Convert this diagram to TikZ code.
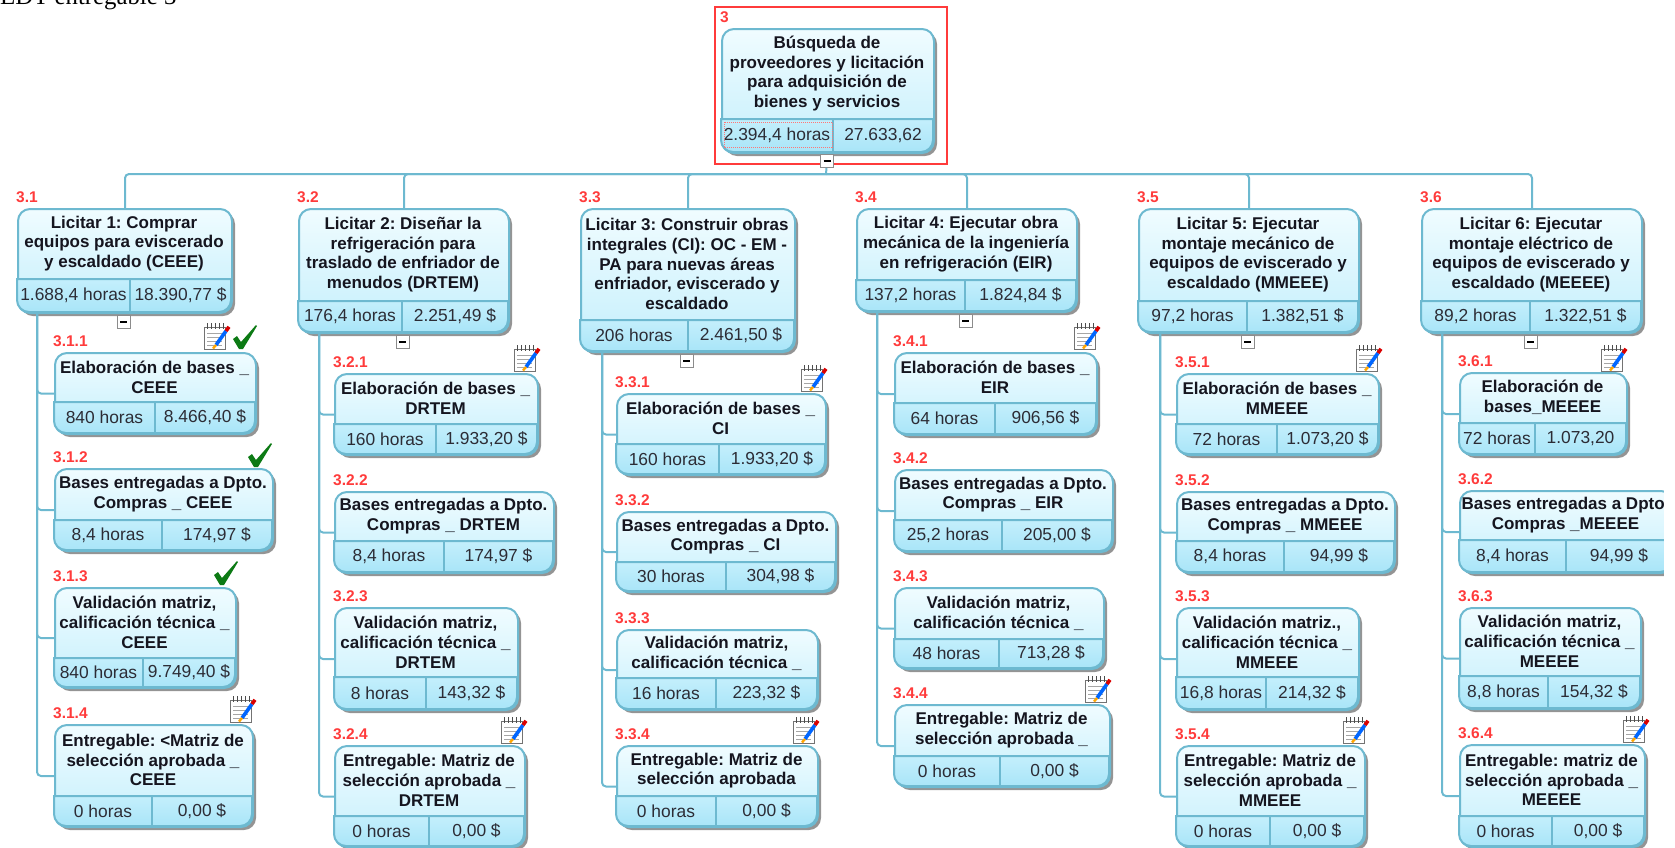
\documentclass[tikz,border=0pt]{standalone}
\usepackage{xcolor}
\usepackage{fontspec}
\usepackage{tikz}
\usetikzlibrary{shadows}
\setmainfont{Liberation Sans}
\newfontfamily\edtfont{Liberation Serif}
\frenchspacing
\definecolor{wbsline}{HTML}{6DB9D0}
\definecolor{wbstop}{HTML}{F0FCFF}
\definecolor{wbsmid}{HTML}{C4EFFC}
\definecolor{wbsfoot}{HTML}{A9E5F8}
\definecolor{wbsred}{HTML}{FF3B3B}
\definecolor{wbsink}{HTML}{15151F}
\definecolor{wbsgreen}{HTML}{0C7A14}
\tikzset{
    wbsbox/.style={draw=wbsline, line width=2pt, rounded corners=12pt, top color=wbstop, bottom color=wbsmid, inner sep=0pt, anchor=north west,
        general shadow={shadow xshift=3pt, shadow yshift=-3pt, fill=black, opacity=0.42}},
    wbsfooter/.style={draw=wbsline, line width=2pt, top color=wbsmid, bottom color=wbsfoot},
    wbstitle/.style={align=center, font=\fontsize{17}{19.8}\selectfont\bfseries, text=wbsink, inner sep=0pt},
    wbscell/.style={font=\fontsize{17.4}{20}\selectfont, text=wbsink!90, inner sep=0pt},
    wbsnum/.style={font=\fontsize{15.5}{18}\selectfont\bfseries, text=wbsred, anchor=west, inner sep=0pt},
    wbsconn/.style={draw=wbsline, line width=2pt, rounded corners=4pt},
    collapser/.style={draw=black!45, fill=white, line width=1pt, minimum width=13pt, minimum height=13pt, inner sep=0pt},
    notepad/.pic={
        \draw[black!55, fill=white, line width=0.9pt] (-12,-9) rectangle (9,13);
        \foreach \ringx in {-9,-5,-1,3,7}
            \draw[black!70, line width=1pt] (\ringx,-13) -- (\ringx,-7);
        \foreach \rowy in {-3,1,5,9}
            \draw[black!35, line width=0.9pt] (-9,\rowy) -- (6,\rowy);
        \draw[blue!60!cyan, line width=3.6pt] (10,-5) -- (0,9);
        \draw[red!85!black, line width=3.6pt] (13,-9.2) -- (10,-5);
        \draw[orange!70!yellow, line width=2.4pt] (0,9) -- (-3,12.5);
    },
    checkmark/.pic={
        \fill[wbsgreen] (-12,2) -- (-8,-1) -- (-4,5) -- (11,-12) -- (12,-11) -- (-2,12) -- (-6,12) -- cycle;
    }
}
\begin{document}
\begin{tikzpicture}[x=1pt,y=-1pt]
    \path[use as bounding box, clip] (0,0) rectangle (1675,847);
    \node[anchor=base west, inner sep=0pt, font=\edtfont\fontsize{24.8}{28}\selectfont] (edt) at (0,4) {EDT entregable 3};
    \node[draw=wbsred, line width=2pt, inner sep=0pt, minimum width=232pt, minimum height=157pt, anchor=north west] (frame3) at (714,6) {};

    \foreach \nm/\xa/\ya/\xb/\yb/\yd/\xd/\nbr/\ttl/\hrs/\cst in {
        b3/721/28/933/152/119/833/3/{Búsqueda de\\proveedores y licitación\\para adquisición de\\bienes y servicios}/{2.394,4 horas}/{27.633,62},
        b31/17/208/231/312/279/130/3.1/{Licitar 1: Comprar\\equipos para eviscerado\\y escaldado (CEEE)}/{1.688,4 horas}/{18.390,77 \$},
        b311/54/352/255/433/402/155/3.1.1/{Elaboración de bases \_\\CEEE}/{840 horas}/{8.466,40 \$},
        b312/54/468/272/550/520/162/3.1.2/{Bases entregadas a Dpto.\\Compras \_ CEEE}/{8,4 horas}/{174,97 \$},
        b313/54/587/235/687/658/143/3.1.3/{Validación matriz,\\calificación técnica \_\\CEEE}/{840 horas}/{9.749,40 \$},
        b314/54/724/252/826/796/152/3.1.4/{Entregable: <Matriz de\\selección aprobada \_\\CEEE}/{0 horas}/{0,00 \$},
        b32/298/208/508/332/301/402/3.2/{Licitar 2: Diseñar la\\refrigeración para\\traslado de enfriador de\\menudos (DRTEM)}/{176,4 horas}/{2.251,49 \$},
        b321/334/373/537/454/424/436/3.2.1/{Elaboración de bases \_\\DRTEM}/{160 horas}/{1.933,20 \$},
        b322/334/491/553/572/541/444/3.2.2/{Bases entregadas a Dpto.\\Compras \_ DRTEM}/{8,4 horas}/{174,97 \$},
        b323/334/607/517/709/677/426/3.2.3/{Validación matriz,\\calificación técnica \_\\DRTEM}/{8 horas}/{143,32 \$},
        b324/334/745/524/846/816/429/3.2.4/{Entregable: Matriz de\\selección aprobada \_\\DRTEM}/{0 horas}/{0,00 \$},
        b33/580/208/794/351/320/688/3.3/{Licitar 3: Construir obras\\integrales (CI): OC - EM -\\PA para nuevas áreas\\enfriador, eviscerado y\\escaldado}/{206 horas}/{2.461,50 \$},
        b331/616/393/825/474/444/719/3.3.1/{Elaboración de bases \_\\CI}/{160 horas}/{1.933,20 \$},
        b332/616/511/835/591/562/726/3.3.2/{Bases entregadas a Dpto.\\Compras \_ CI}/{30 horas}/{304,98 \$},
        b333/616/629/817/709/678/716/3.3.3/{Validación matriz,\\calificación técnica \_}/{16 horas}/{223,32 \$},
        b334/616/745/817/826/796/716/3.3.4/{Entregable: Matriz de\\selección aprobada}/{0 horas}/{0,00 \$},
        b34/856/208/1076/311/280/965/3.4/{Licitar 4: Ejecutar obra\\mecánica de la ingeniería\\en refrigeración (EIR)}/{137,2 horas}/{1.824,84 \$},
        b341/894/352/1096/434/403/995/3.4.1/{Elaboración de bases \_\\EIR}/{64 horas}/{906,56 \$},
        b342/894/469/1112/551/520/1002/3.4.2/{Bases entregadas a Dpto.\\Compras \_ EIR}/{25,2 horas}/{205,00 \$},
        b343/894/587/1103/668/639/999/3.4.3/{Validación matriz,\\calificación técnica \_}/{48 horas}/{713,28 \$},
        b344/894/704/1109/786/756/1000/3.4.4/{Entregable: Matriz de\\selección aprobada \_}/{0 horas}/{0,00 \$},
        b35/1138/208/1358/332/301/1247/3.5/{Licitar 5: Ejecutar\\montaje mecánico de\\equipos de eviscerado y\\escaldado (MMEEE)}/{97,2 horas}/{1.382,51 \$},
        b351/1176/373/1378/454/424/1277/3.5.1/{Elaboración de bases \_\\MMEEE}/{72 horas}/{1.073,20 \$},
        b352/1176/491/1394/572/541/1284/3.5.2/{Bases entregadas a Dpto.\\Compras \_ MMEEE}/{8,4 horas}/{94,99 \$},
        b353/1176/607/1358/709/677/1266/3.5.3/{Validación matriz.,\\calificación técnica \_\\MMEEE}/{16,8 horas}/{214,32 \$},
        b354/1176/745/1364/846/816/1270/3.5.4/{Entregable: Matriz de\\selección aprobada \_\\MMEEE}/{0 horas}/{0,00 \$},
        b36/1421/208/1641/332/301/1530/3.6/{Licitar 6: Ejecutar\\montaje eléctrico de\\equipos de eviscerado y\\escaldado (MEEEE)}/{89,2 horas}/{1.322,51 \$},
        b361/1459/372/1626/454/423/1535/3.6.1/{Elaboración de\\bases\_MEEEE}/{72 horas}/{1.073,20},
        b362/1459/490/1672/572/540/1566/3.6.2/{Bases entregadas a Dpto.\\Compras \_MEEEE}/{8,4 horas}/{94,99 \$},
        b363/1459/607/1640/708/676/1548/3.6.3/{Validación matriz,\\calificación técnica \_\\MEEEE}/{8,8 horas}/{154,32 \$},
        b364/1459/744/1644/846/816/1552/3.6.4/{Entregable: matriz de\\selección aprobada \_\\MEEEE}/{0 horas}/{0,00 \$}%
    }{
        \node[wbsbox, minimum width={(\xb-\xa)*1pt}, minimum height={(\yb-\ya)*1pt}] (\nm) at (\xa,\ya) {};
        \path[wbsfooter] (\xa,\yd) [rounded corners=12pt] -- (\xa,\yb) -- (\xb,\yb) [sharp corners] -- (\xb,\yd) -- cycle;
        \draw[draw=wbsline, line width=2pt] (\xd,\yd) -- (\xd,\yb);
        \node[wbstitle] (\nm-t) at ({(\xa+\xb)/2},{(\ya+\yd)/2}) {\ttl};
        \node[wbscell] (\nm-h) at ({(\xa+\xd)/2},{(\yd+\yb)/2}) {\hrs};
        \node[wbscell] (\nm-c) at ({(\xd+\xb)/2},{(\yd+\yb)/2}) {\cst};
        \node[wbsnum] (\nm-n) at ({\xa-1},{\ya-10.5}) {\nbr};
    }

    \draw[draw=wbsred!70, line width=1pt, densely dotted] (724,122) rectangle (832,147);

    \node[collapser] (c3) at ([yshift=-7pt,xshift=-1pt]b3.south) {\rule{7pt}{1.6pt}};
    \coordinate (bus) at (826,174);
    \draw[wbsconn] (c3) -- (bus);
    \foreach \b in {b31,b32,b33,b34,b35,b36}
        \draw[wbsconn] (bus) -| (\b.north);

    \foreach \b/\xs/\kids in {
        b31/20/{b311,b312,b313,b314},
        b32/21/{b321,b322,b323,b324},
        b33/22/{b331,b332,b333,b334},
        b34/21/{b341,b342,b343,b344},
        b35/22/{b351,b352,b353,b354},
        b36/21/{b361,b362,b363,b364}%
    }{
        \coordinate (\b-trunk) at ([xshift=\xs pt]\b.south west);
        \foreach \k in \kids
            \draw[wbsconn] (\b-trunk) |- (\k.west);
        \node[collapser] (\b-c) at ([yshift=-8pt,xshift=-1.5pt]\b.south) {\rule{7pt}{1.6pt}};
    }

    \pic at (216,336) {notepad};
    \pic at (242,709) {notepad};
    \pic at (526,358) {notepad};
    \pic at (513,730) {notepad};
    \pic at (813,378) {notepad};
    \pic at (805,730) {notepad};
    \pic at (1086,336) {notepad};
    \pic at (1097,689) {notepad};
    \pic at (1368,358) {notepad};
    \pic at (1355,730) {notepad};
    \pic at (1613,358) {notepad};
    \pic at (1635,729) {notepad};
    \pic at (245,337) {checkmark};
    \pic at (260,455) {checkmark};
    \pic at (226,573) {checkmark};

    \fill[white] (1664,0) rectangle (1675,847);
\end{tikzpicture}
\end{document}
